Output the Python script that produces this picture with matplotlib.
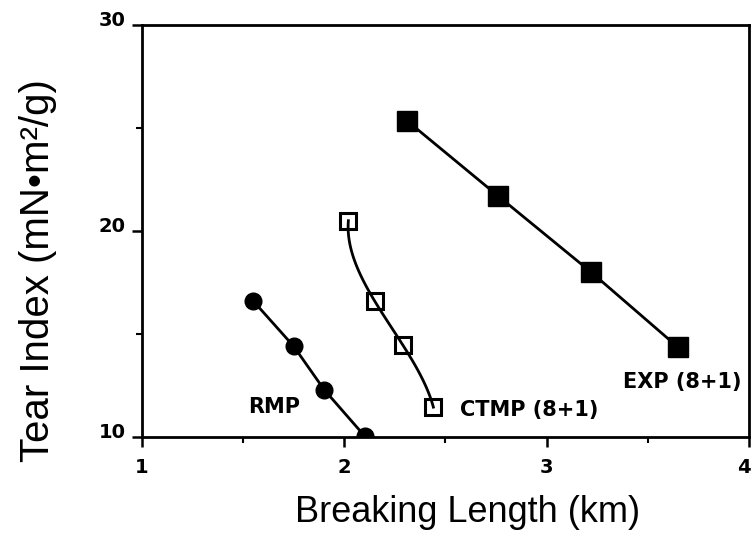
import numpy as np
import matplotlib
matplotlib.use("Agg")
import matplotlib.pyplot as plt
from matplotlib.transforms import ScaledTranslation

# Breaking length (km) vs tear index (mN·m²/g) for three pulp types
rmp_x = [1.55, 1.75, 1.90, 2.10]
rmp_y = [16.6, 14.4, 12.3, 10.05]

ctmp_x = [2.02, 2.15, 2.29, 2.44]
ctmp_y = [20.5, 16.6, 14.45, 11.45]

exp_x = [2.31, 2.76, 3.22, 3.65]
exp_y = [25.35, 21.7, 18.0, 14.35]

x_ticks = [1, 2, 3, 4]
y_ticks = [10, 20, 30]

fig = plt.figure(figsize=(7.54, 5.47), dpi=100)
ax = fig.add_axes([142 / 754, 110 / 547, 607 / 754, 412 / 547])

lw = 2.0
# RMP: filled circles joined by straight segments
ax.plot(rmp_x, rmp_y, color="black", lw=lw, marker="o", ms=12,
        mfc="black", mec="black", zorder=3)

# CTMP: open squares on a smooth curve (x as a cubic in y through the points)
coef = np.polyfit(ctmp_y, ctmp_x, 3)
yy = np.linspace(min(ctmp_y), max(ctmp_y), 100)
ax.plot(np.polyval(coef, yy), yy, color="black", lw=lw, zorder=2)
ax.plot(ctmp_x, ctmp_y, ls="none", marker="s", ms=11, mfc="none",
        mec="black", mew=2.2, zorder=3)

# EXP: filled squares joined by straight segments
ax.plot(exp_x, exp_y, color="black", lw=lw, marker="s", ms=14,
        mfc="black", mec="black", zorder=3)

ax.set_xlim(1, 4)
ax.set_ylim(10, 30)
ax.set_xticks(x_ticks)
ax.set_yticks(y_ticks)
ax.set_xticks([1.5, 2.5, 3.5], minor=True)
ax.set_yticks([15, 25], minor=True)

bold = dict(family="DejaVu Sans", weight="bold", size=14)
ax.set_xticklabels([str(t) for t in x_ticks], **bold)
ax.set_yticklabels([str(t) for t in y_ticks], **bold)
ax.tick_params(axis="both", which="major", direction="out", length=7,
               width=1.8, color="black")
ax.tick_params(axis="both", which="minor", direction="out", length=4,
               width=1.5, color="black")
ax.tick_params(axis="x", which="major", pad=8)
ax.tick_params(axis="y", which="major", pad=5)
for lab in ax.get_yticklabels():
    lab.set_transform(lab.get_transform()
                      + ScaledTranslation(0, 5 / 72, fig.dpi_scale_trans))
# keep the last x tick label inside the figure edge
last = ax.get_xticklabels()[-1]
last.set_transform(last.get_transform()
                   + ScaledTranslation(-4 / 72, 0, fig.dpi_scale_trans))

for sp in ax.spines.values():
    sp.set_linewidth(2.0)
    sp.set_color("black")

lbl = dict(family="DejaVu Sans", weight="bold", size=15, color="black")
ax.text(1.655, 11.45, "RMP", ha="center", va="center", **lbl)
ax.text(2.57, 11.3, "CTMP (8+1)", ha="left", va="center", **lbl)
ax.text(3.67, 12.67, "EXP (8+1)", ha="center", va="center", **lbl)

fig.text(468 / 754, 1 - 512 / 547, "Breaking Length (km)",
         family="Liberation Sans", size=26, ha="center", va="center")
fig.text(38 / 754, 1 - 271 / 547, "Tear Index (mN\u2022m\u00b2/g)",
         family="Liberation Sans", size=29, ha="center", va="center",
         rotation=90)

fig.savefig("out.png", dpi=100)
